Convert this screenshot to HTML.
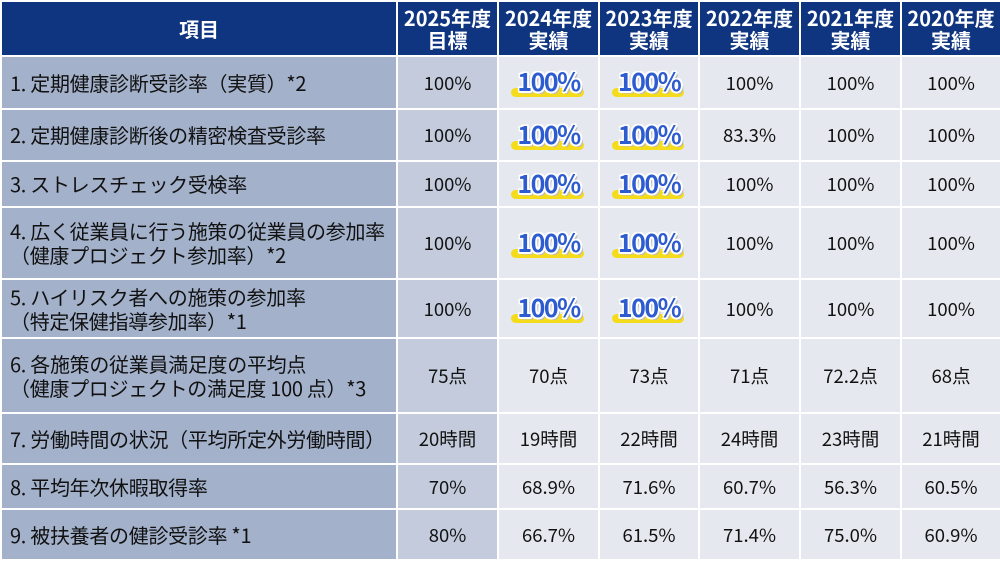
<!DOCTYPE html>
<html><head><meta charset="utf-8"><style>
body{margin:0;width:1000px;height:559px;overflow:hidden;background:#fff;font-family:"Noto Sans CJK JP","Liberation Sans",sans-serif;}
table{border-collapse:collapse;table-layout:fixed;width:1000px;}
td,th{border:2px solid #fff;padding:0;font-size:18.5px;color:#111;text-align:center;}
th{background:#0f3580;color:#fff;font-weight:bold;font-size:20px;line-height:22px;}
td.l{background:#a3b1cb;text-align:left;padding-left:8px;line-height:24px;font-size:20px;letter-spacing:-0.3px;}
td.t{background:#c3cbdc;}
td.v{background:#e5e8ee;}
.b{position:relative;display:inline-block;font-weight:bold;font-size:25px;line-height:26px;color:#2d5bd0;letter-spacing:-1.5px;
text-shadow:-1.5px -1.5px 0 #fff,1.5px -1.5px 0 #fff,-1.5px 1.5px 0 #fff,1.5px 1.5px 0 #fff,0 2px 0 #fff,2px 0 0 #fff,2.5px 2.5px 0 #bbb;z-index:1;}
.b:before{content:"";position:absolute;left:-6px;right:-4px;bottom:-3px;height:9px;background:#f4dc1c;border-radius:5px;z-index:-1;}
</style></head><body>
<table>
<colgroup><col style="width:396px"><col style="width:101px"><col style="width:101px"><col style="width:100px"><col style="width:101px"><col style="width:101px"><col style="width:100px"></colgroup>
<tr style="height:55px"><th>項目</th><th>2025年度<br>目標</th><th>2024年度<br>実績</th><th>2023年度<br>実績</th><th>2022年度<br>実績</th><th>2021年度<br>実績</th><th>2020年度<br>実績</th></tr>
<tr style="height:53px"><td class="l">1. 定期健康診断受診率（実質）*2</td><td class="t">100%</td><td class="v"><span class="b">100%</span></td><td class="v"><span class="b">100%</span></td><td class="v">100%</td><td class="v">100%</td><td class="v">100%</td></tr>
<tr style="height:52px"><td class="l">2. 定期健康診断後の精密検査受診率</td><td class="t">100%</td><td class="v"><span class="b">100%</span></td><td class="v"><span class="b">100%</span></td><td class="v">83.3%</td><td class="v">100%</td><td class="v">100%</td></tr>
<tr style="height:46px"><td class="l">3. ストレスチェック受検率</td><td class="t">100%</td><td class="v"><span class="b">100%</span></td><td class="v"><span class="b">100%</span></td><td class="v">100%</td><td class="v">100%</td><td class="v">100%</td></tr>
<tr style="height:72px"><td class="l">4. 広く従業員に行う施策の従業員の参加率<br>（健康プロジェクト参加率）*2</td><td class="t">100%</td><td class="v"><span class="b">100%</span></td><td class="v"><span class="b">100%</span></td><td class="v">100%</td><td class="v">100%</td><td class="v">100%</td></tr>
<tr style="height:59px"><td class="l">5. ハイリスク者への施策の参加率<br>（特定保健指導参加率）*1</td><td class="t">100%</td><td class="v"><span class="b">100%</span></td><td class="v"><span class="b">100%</span></td><td class="v">100%</td><td class="v">100%</td><td class="v">100%</td></tr>
<tr style="height:75px"><td class="l">6. 各施策の従業員満足度の平均点<br>（健康プロジェクトの満足度 100 点）*3</td><td class="t">75点</td><td class="v">70点</td><td class="v">73点</td><td class="v">71点</td><td class="v">72.2点</td><td class="v">68点</td></tr>
<tr style="height:51px"><td class="l">7. 労働時間の状況（平均所定外労働時間）</td><td class="t">20時間</td><td class="v">19時間</td><td class="v">22時間</td><td class="v">24時間</td><td class="v">23時間</td><td class="v">21時間</td></tr>
<tr style="height:45px"><td class="l">8. 平均年次休暇取得率</td><td class="t">70%</td><td class="v">68.9%</td><td class="v">71.6%</td><td class="v">60.7%</td><td class="v">56.3%</td><td class="v">60.5%</td></tr>
<tr style="height:51px"><td class="l">9. 被扶養者の健診受診率 *1</td><td class="t">80%</td><td class="v">66.7%</td><td class="v">61.5%</td><td class="v">71.4%</td><td class="v">75.0%</td><td class="v">60.9%</td></tr>
</table>
</body></html>
